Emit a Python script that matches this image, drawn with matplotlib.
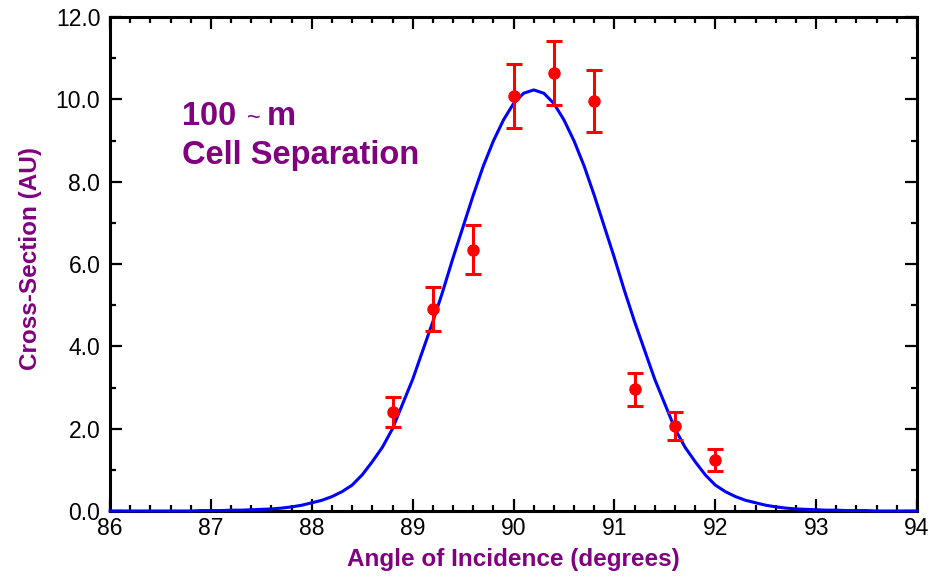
import numpy as np
import matplotlib
matplotlib.use("Agg")
import matplotlib.pyplot as plt
from matplotlib.ticker import MultipleLocator, FormatStrFormatter

# measured points (angle, cross-section, error)
angle = [88.8, 89.2, 89.6, 90.0, 90.4, 90.8, 91.2, 91.6, 92.0]
cross_section = [2.40, 4.90, 6.35, 10.08, 10.64, 9.97, 2.96, 2.06, 1.23]
cross_err = [0.37, 0.53, 0.60, 0.77, 0.77, 0.75, 0.40, 0.34, 0.27]

fit_angle = np.linspace(86.0, 94.0, 81)
fit_value = [
    0.00, 0.00, 0.00, 0.00, 0.00, 0.00, 0.00, 0.00, 0.00, 0.01,
    0.01, 0.01, 0.02, 0.02, 0.03, 0.04, 0.05, 0.07, 0.10, 0.14,
    0.20, 0.26, 0.35, 0.47, 0.63, 0.88, 1.20, 1.55, 2.00, 2.60,
    3.20, 3.90, 4.60, 5.35, 6.15, 6.91, 7.67, 8.38, 8.99, 9.50,
    9.90, 10.15, 10.23, 10.15, 9.90, 9.50, 8.99, 8.38, 7.67, 6.91,
    6.15, 5.35, 4.60, 3.90, 3.20, 2.60, 2.00, 1.55, 1.20, 0.88,
    0.63, 0.47, 0.35, 0.26, 0.20, 0.14, 0.10, 0.07, 0.05, 0.04,
    0.03, 0.02, 0.02, 0.01, 0.01, 0.01, 0.00, 0.00, 0.00, 0.00,
    0.00,
]

x_ticks = [86, 87, 88, 89, 90, 91, 92, 93, 94]
y_ticks = [0, 2, 4, 6, 8, 10, 12]

purple = "#800080"
plt.rcParams["font.family"] = ["Liberation Sans", "DejaVu Sans"]

fig = plt.figure(figsize=(9.41, 5.77), dpi=100)
ax = fig.add_axes([0.117, 0.1144, 0.8575, 0.856])

ax.plot(fit_angle, fit_value, color="#0000ff", linewidth=2.2, zorder=3, clip_on=False)
ax.errorbar(angle, cross_section, yerr=cross_err, fmt="o", color="#ff0000",
            markersize=8, elinewidth=2.2, capsize=5.5, capthick=2.2, zorder=4)

ax.set_xlim(86, 94)
ax.set_ylim(0, 12)
ax.set_xticks(x_ticks)
ax.set_yticks(y_ticks)
ax.xaxis.set_minor_locator(MultipleLocator(0.2))
ax.yaxis.set_minor_locator(MultipleLocator(1.0))
ax.yaxis.set_major_formatter(FormatStrFormatter("%.1f"))

ax.tick_params(which="both", direction="in", top=True, right=True, width=1.6, labelsize=16.5)
ax.tick_params(which="major", length=8.5)
ax.tick_params(which="minor", length=4.5)
ax.tick_params(axis="x", pad=4)
ax.tick_params(axis="y", pad=7)
for sp in ax.spines.values():
    sp.set_linewidth(2.2)

ax.set_xlabel("Angle of Incidence (degrees)", color=purple, fontsize=17.5, fontweight="bold", labelpad=6)
ax.set_ylabel("Cross-Section (AU)", color=purple, fontsize=17.5, fontweight="bold")
ax.yaxis.set_label_coords(-0.084, 0.512)

ax.text(0.0892, 0.781, "100", transform=ax.transAxes, color=purple, fontsize=23.5, fontweight="bold")
ax.text(0.170, 0.781, "~", transform=ax.transAxes, color=purple, fontsize=17)
ax.text(0.1945, 0.781, "m", transform=ax.transAxes, color=purple, fontsize=23.5, fontweight="bold")
ax.text(0.0892, 0.702, "Cell Separation", transform=ax.transAxes, color=purple, fontsize=23.5, fontweight="bold")

fig.savefig("out.png", dpi=100)
